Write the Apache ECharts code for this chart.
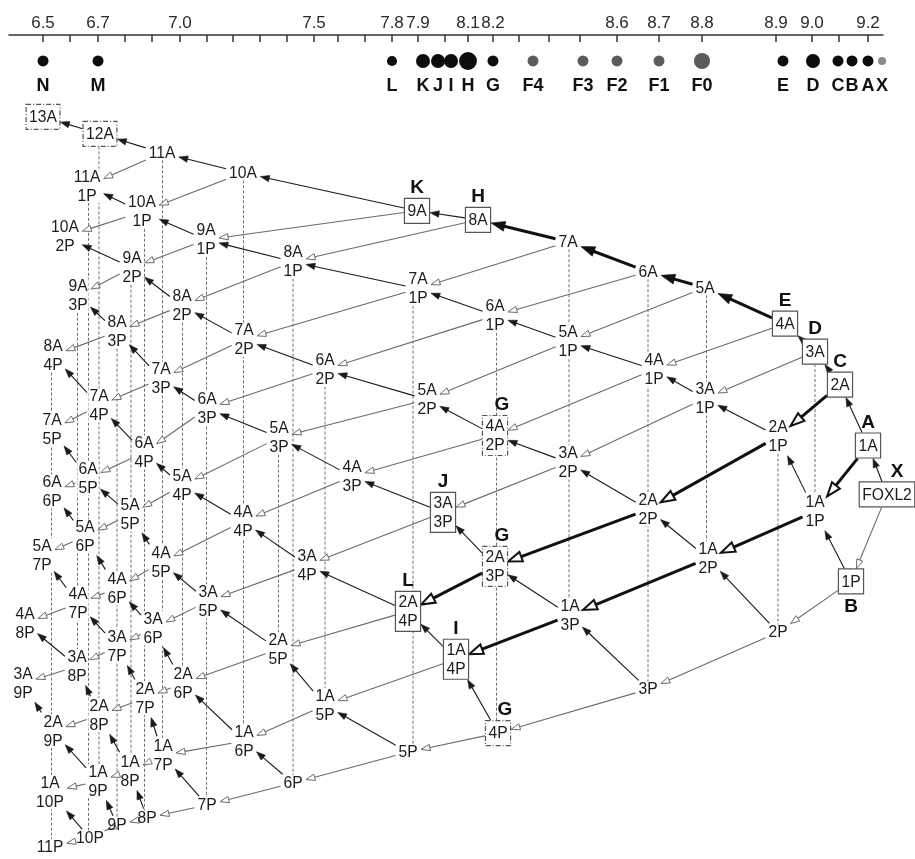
<!DOCTYPE html>
<html>
<head>
<meta charset="utf-8">
<script src="https://cdn.jsdelivr.net/npm/echarts@6/dist/echarts.min.js"></script>
<style>
  html, body { margin: 0; padding: 0; background: #fff; }
  #chart { width: 915px; height: 859px; }
</style>
</head>
<body>
<div id="chart"></div>
<script>
// ---- pI scale of the IEF strip (strip position in mm; the gradient is not linear) ----
const stripTicks = [6.8, 12.2, 17.8, 23.2, 28.6, 34.2, 39.6, 44.8, 50.2, 55.6, 61, 65.8, 71.2, 76.6,
  81.8, 87.2, 91.8, 96.8, 102, 108, 114.2, 121.6, 130, 138.6, 153.4, 160.6, 166, 171.8];
const pILabels = ['6.5', '6.7', '7.0', '7.5', '7.8', '7.9', '8.1', '8.2', '8.6', '8.7', '8.8', '8.9', '9.0', '9.2'];
const pILabelAt = [6.8, 17.8, 34.2, 61, 76.6, 81.8, 91.8, 96.8, 121.6, 130, 138.6, 153.4, 160.6, 171.8];

// ---- observed spots ----
const spotNames = ['N', 'M', 'L', 'K', 'J', 'I', 'H', 'G', 'F4', 'F3', 'F2', 'F1', 'F0', 'E', 'D', 'C', 'B', 'A', 'X'];
const spotPos = [6.8, 17.8, 76.6, 82.8, 85.8, 88.4, 91.8, 96.8, 104.8, 114.8, 121.6, 130, 138.6, 154.8, 160.8, 165.8, 168.6, 171.8, 174.6];
const spotAbundance = [2, 2, 1.7, 3, 3, 3, 4.3, 2, 2, 2, 2, 2, 3.7, 2, 3, 2, 2, 2, 1];
const spotGroup = ['main', 'main', 'main', 'main', 'main', 'main', 'main', 'main', 'F', 'F', 'F', 'F', 'F',
  'main', 'main', 'main', 'main', 'main', 'X'];
const spotRow = 5.2;

// ---- modified forms of FOXL2: [acetyl groups, phosphate groups, strip position, depth] ----
const species = [
  [0, 0, 175.6, 92.0], [1, 0, 171.8, 82.2], [2, 0, 166.2, 70.0], [3, 0, 161.2, 63.4], [4, 0, 155.2, 57.8],
  [5, 0, 139.2, 50.6], [6, 0, 127.8, 47.4], [7, 0, 111.8, 41.4], [8, 0, 93.8, 37.0], [9, 0, 81.6, 35.2],
  [10, 0, 46.8, 27.6], [11, 0, 30.6, 23.6], [12, 0, 18.2, 19.8], [13, 0, 6.8, 16.4],

  [0, 1, 168.4, 109.4], [1, 1, 161.2, 95.4], [2, 1, 153.8, 80.4], [3, 1, 139.2, 72.8], [4, 1, 129.0, 67.0],
  [5, 1, 111.8, 61.4], [6, 1, 97.2, 56.2], [7, 1, 81.8, 50.8], [8, 1, 56.8, 45.4], [9, 1, 39.4, 41.0],
  [10, 1, 26.6, 35.4], [11, 1, 15.6, 30.2],

  [0, 2, 153.8, 119.6], [1, 2, 139.8, 104.8], [2, 2, 127.8, 95.0], [3, 2, 111.8, 85.6], [4, 2, 97.2, 80.2],
  [5, 2, 83.6, 73.0], [6, 2, 63.2, 67.0], [7, 2, 47.0, 61.0], [8, 2, 34.6, 54.2], [9, 2, 24.6, 46.6],
  [10, 2, 11.2, 40.4],

  [0, 3, 127.8, 131.0], [1, 3, 112.2, 116.2], [2, 3, 97.2, 106.4], [3, 3, 86.8, 95.6], [4, 3, 68.6, 88.4],
  [5, 3, 54.0, 80.6], [6, 3, 39.6, 74.8], [7, 3, 30.4, 68.8], [8, 3, 21.6, 59.4], [9, 3, 13.8, 52.2],

  [0, 4, 97.8, 139.8], [1, 4, 89.4, 125.0], [2, 4, 79.8, 115.4], [3, 4, 59.6, 106.2], [4, 4, 46.8, 97.4],
  [5, 4, 34.6, 90.2], [6, 4, 27.0, 83.6], [7, 4, 18.0, 74.2], [8, 4, 8.8, 64.2],

  [0, 5, 79.8, 143.6], [1, 5, 63.2, 134.2], [2, 5, 53.8, 123.0], [3, 5, 39.8, 113.4], [4, 5, 30.4, 105.6],
  [5, 5, 24.2, 96.0], [6, 5, 15.8, 88.8], [7, 5, 8.6, 79.0],

  [0, 6, 56.8, 149.8], [1, 6, 47.0, 141.4], [2, 6, 34.8, 129.8], [3, 6, 28.8, 118.8], [4, 6, 21.6, 110.8],
  [5, 6, 15.2, 100.4], [6, 6, 8.6, 91.4],

  [0, 7, 39.6, 154.2], [1, 7, 30.8, 144.2], [2, 7, 27.2, 132.8], [3, 7, 21.6, 122.4], [4, 7, 13.8, 113.8],
  [5, 7, 6.6, 104.2],

  [0, 8, 27.6, 156.8], [1, 8, 24.2, 147.4], [2, 8, 18.0, 136.2], [3, 8, 13.6, 126.4], [4, 8, 3.2, 117.8],

  [0, 9, 21.6, 158.2], [1, 9, 17.8, 149.4], [2, 9, 8.8, 139.4], [3, 9, 2.8, 129.8],

  [0, 10, 16.2, 160.8], [1, 10, 8.2, 151.6],

  [0, 11, 8.2, 162.6]
];

// forms assigned to a spot (solid frame) or tentatively assigned (dash-dot frame)
const matched = [
  ['9A', 'K', 'solid'], ['8A', 'H', 'solid'], ['4A', 'E', 'solid'], ['3A', 'D', 'solid'], ['2A', 'C', 'solid'],
  ['1A', 'A', 'solid'], ['FOXL2', 'X', 'solid'], ['1P', 'B', 'solid'], ['3A3P', 'J', 'solid'],
  ['2A4P', 'L', 'solid'], ['1A4P', 'I', 'solid'],
  ['4A2P', 'G', 'dash'], ['2A3P', 'G', 'dash'], ['4P', 'G', 'dash'], ['12A', '', 'dash'], ['13A', '', 'dash']
];

// main modification route (heavy arrows)
const pathway = [
  ['1A', '1A1P'], ['2A', '2A1P'], ['4A', '5A'], ['5A', '6A'], ['6A', '7A'], ['7A', '8A'],
  ['1A1P', '1A2P'], ['2A1P', '2A2P'], ['1A2P', '1A3P'], ['2A2P', '2A3P'], ['1A3P', '1A4P'], ['2A3P', '2A4P']
];

// forms focusing at the same position (dotted verticals: first form -> last form)
const isoColumns = [
  ['12A', '1A9P'], ['11A', '1A7P'], ['10A', '1A6P'], ['11A1P', '10P'], ['10A1P', '8P'], ['9A1P', '7P'],
  ['8A1P', '6P'], ['7A1P', '5P'], ['9A2P', '1A8P'], ['8A2P', '2A6P'], ['6A2P', '1A5P'], ['9A3P', '3A8P'],
  ['8A3P', '9P'], ['5A3P', '2A5P'], ['8A4P', '11P'], ['7A', '1A3P'], ['6A', '3P'], ['5A', '1A2P'],
  ['2A1P', '2P'], ['3A', '1A1P'], ['6A1P', '4P']
];

// ---------------------------------------------------------------------------
const FONT_FAMILY = '"Liberation Sans", Arial, Helvetica, sans-serif';
const LABEL_FONT = '17px ' + FONT_FAMILY;
const LETTER_FONT = 'bold 19px ' + FONT_FAMILY;
const SQUEEZE = 0.92;
const LINE_H = 19;

const measureCtx = document.createElement('canvas').getContext('2d');
measureCtx.font = LABEL_FONT;

function speciesName(a, p) {
  if (!a && !p) return 'FOXL2';
  if (!p) return a + 'A';
  if (!a) return p + 'P';
  return a + 'A' + p + 'P';
}
function speciesText(a, p) {
  if (!a && !p) return 'FOXL2';
  if (!p) return a + 'A';
  if (!a) return p + 'P';
  return a + 'A\n' + p + 'P';
}

const marks = {};
matched.forEach(([name, letter, frame]) => { marks[name] = { letter, frame }; });

const nodes = species.map(([a, p, x, y]) => {
  const text = speciesText(a, p);
  const lines = text.split('\n');
  const w = Math.max(...lines.map(t => measureCtx.measureText(t).width)) * SQUEEZE;
  const name = speciesName(a, p);
  const m = marks[name];
  const n = { a, p, x, y, name, text, lines: lines.length, w, frame: m ? m.frame : null, letter: m ? m.letter : '' };
  if (n.frame) {
    n.hw = w / 2 + 3;
    n.hh = n.lines === 1 ? 12.5 : 20;
  } else {
    n.hw = w / 2 + 1;
    n.hh = n.lines * LINE_H / 2 - 2;
  }
  return n;
});
const byName = {};
nodes.forEach(n => { byName[n.name] = n; });

// acetylation: a -> a+1 ; phosphorylation: p -> p+1
const heavy = new Set(pathway.map(([f, t]) => f + '>' + t));
const edges = [];
nodes.forEach(n => {
  const ac = byName[speciesName(n.a + 1, n.p)];
  if (ac) edges.push({ src: n, dst: ac, kind: 'A', bold: heavy.has(n.name + '>' + ac.name) });
  const ph = byName[speciesName(n.a, n.p + 1)];
  if (ph) edges.push({ src: n, dst: ph, kind: 'P', bold: heavy.has(n.name + '>' + ph.name) });
});

const columns = isoColumns.map(([t, b]) => ({ top: byName[t], bottom: byName[b] }));

function boundary(ux, uy, n) {
  const tx = Math.abs(ux) > 1e-6 ? n.hw / Math.abs(ux) : Infinity;
  const ty = Math.abs(uy) > 1e-6 ? n.hh / Math.abs(uy) : Infinity;
  return Math.min(tx, ty);
}

const chart = echarts.init(document.getElementById('chart'));

const option = {
  animation: false,
  backgroundColor: '#fff',
  grid: { left: 9, top: 35, width: 874, height: 825 },
  xAxis: {
    type: 'value',
    position: 'top',
    min: 0,
    max: 174.8,
    axisLine: { show: true, onZero: false, lineStyle: { color: '#333', width: 1.5 } },
    axisTick: { show: true, inside: true, length: 7, customValues: stripTicks, lineStyle: { color: '#333', width: 1.5 } },
    axisLabel: {
      show: true,
      customValues: pILabelAt,
      margin: 3,
      color: '#2a2a2a',
      fontSize: 17,
      fontFamily: FONT_FAMILY,
      formatter: v => {
        let best = 0;
        pILabelAt.forEach((p, i) => { if (Math.abs(p - v) < Math.abs(pILabelAt[best] - v)) best = i; });
        return pILabels[best];
      }
    },
    splitLine: { show: false }
  },
  yAxis: { type: 'value', show: false, min: 0, max: 165, inverse: true },
  series: [
    // dotted verticals joining co-focusing forms
    {
      type: 'custom',
      silent: true,
      data: columns.map(c => [c.top.x, c.top.y, c.bottom.x, c.bottom.y]),
      encode: { x: [0, 2], y: [1, 3] },
      renderItem: (params, api) => {
        const c = columns[params.dataIndex];
        const t = api.coord([c.top.x, c.top.y]);
        const b = api.coord([c.bottom.x, c.bottom.y]);
        const x = (t[0] + b[0]) / 2;
        return {
          type: 'line',
          shape: { x1: x, y1: t[1] + c.top.hh, x2: x, y2: b[1] - c.bottom.hh },
          style: { stroke: '#6e6e6e', lineWidth: 1, lineDash: [3, 2] }
        };
      }
    },
    // white plates under the labels
    {
      type: 'custom',
      silent: true,
      data: nodes.map(n => [n.x, n.y]),
      encode: { x: 0, y: 1 },
      renderItem: (params, api) => {
        const n = nodes[params.dataIndex];
        const c = api.coord([n.x, n.y]);
        return {
          type: 'rect',
          shape: { x: c[0] - n.hw, y: c[1] - n.hh, width: n.hw * 2, height: n.hh * 2 },
          style: { fill: '#fff' }
        };
      }
    },
    // acetylation (filled heads) and phosphorylation (open heads) steps
    {
      type: 'custom',
      silent: true,
      data: edges.map(e => [e.src.x, e.src.y, e.dst.x, e.dst.y]),
      encode: { x: [0, 2], y: [1, 3] },
      renderItem: (params, api) => {
        const e = edges[params.dataIndex];
        const p1 = api.coord([e.src.x, e.src.y]);
        const p2 = api.coord([e.dst.x, e.dst.y]);
        const dx = p2[0] - p1[0], dy = p2[1] - p1[1];
        const len = Math.hypot(dx, dy);
        const ux = dx / len, uy = dy / len;
        const s0 = boundary(ux, uy, e.src) + (e.src.frame ? 0.5 : 2);
        const s1 = boundary(ux, uy, e.dst) + (e.dst.frame ? 0.5 : 2.5);
        const start = [p1[0] + ux * s0, p1[1] + uy * s0];
        const tip = [p2[0] - ux * s1, p2[1] - uy * s1];
        const headLen = e.bold ? 14 : 9;
        const headW = e.bold ? 5 : 3.2;
        const base = [tip[0] - ux * headLen, tip[1] - uy * headLen];
        const nx = -uy, ny = ux;
        const tri = [tip, [base[0] + nx * headW, base[1] + ny * headW], [base[0] - nx * headW, base[1] - ny * headW]];
        const color = e.bold ? '#111' : (e.kind === 'A' ? '#1a1a1a' : '#6a6a6a');
        const lineEnd = e.kind === 'A' ? [tip[0] - ux * headLen * 0.6, tip[1] - uy * headLen * 0.6] : base;
        return {
          type: 'group',
          children: [
            {
              type: 'line',
              shape: { x1: start[0], y1: start[1], x2: lineEnd[0], y2: lineEnd[1] },
              style: { stroke: color, lineWidth: e.bold ? 3 : 1.1 }
            },
            {
              type: 'polygon',
              shape: { points: tri },
              style: e.kind === 'A'
                ? { fill: color, stroke: color, lineWidth: 0.6 }
                : { fill: '#fff', stroke: color, lineWidth: e.bold ? 2 : 1 }
            }
          ]
        };
      }
    },
    // form labels, frames and spot letters
    {
      type: 'custom',
      silent: true,
      data: nodes.map(n => [n.x, n.y]),
      encode: { x: 0, y: 1 },
      renderItem: (params, api) => {
        const n = nodes[params.dataIndex];
        const c = api.coord([n.x, n.y]);
        const children = [];
        if (n.frame) {
          children.push({
            type: 'rect',
            shape: { x: c[0] - n.hw, y: c[1] - n.hh, width: n.hw * 2, height: n.hh * 2 },
            style: {
              fill: '#fff', stroke: '#555', lineWidth: 1.2,
              lineDash: n.frame === 'dash' ? [5, 2, 1, 2] : null
            }
          });
        }
        children.push({
          type: 'text',
          x: c[0], y: c[1] + 0.5, scaleX: SQUEEZE,
          style: {
            text: n.text, x: 0, y: 0, font: LABEL_FONT, fill: '#1c1c1c',
            align: 'center', verticalAlign: 'middle', lineHeight: LINE_H
          }
        });
        if (n.letter) {
          const below = n.letter === 'B';
          const dx = n.letter === 'G' ? 7 : (n.letter === 'X' ? 10 : 0);
          children.push({
            type: 'text',
            x: c[0] + dx, y: below ? c[1] + n.hh + 13 : c[1] - n.hh - 10.5,
            style: { text: n.letter, x: 0, y: 0, font: LETTER_FONT, fill: '#111', align: 'center', verticalAlign: 'middle' }
          });
        }
        return { type: 'group', children };
      }
    },
    // spots under the pI scale
    {
      type: 'scatter',
      silent: true,
      symbol: 'circle',
      data: spotNames.map((name, i) => ({
        name,
        value: [spotPos[i], spotRow],
        symbolSize: 5 + 3 * spotAbundance[i],
        itemStyle: {
          opacity: 1,
          color: spotGroup[i] === 'F' ? '#5c5c5c' : (spotGroup[i] === 'X' ? '#8a8a8a' : '#0d0d0d')
        }
      })),
      label: {
        show: true,
        position: 'inside',
        offset: [0, 25],
        formatter: '{b}',
        color: '#111',
        fontFamily: FONT_FAMILY,
        fontWeight: 'bold',
        fontSize: 18
      }
    }
  ]
};

chart.setOption(option);
</script>
</body>
</html>
